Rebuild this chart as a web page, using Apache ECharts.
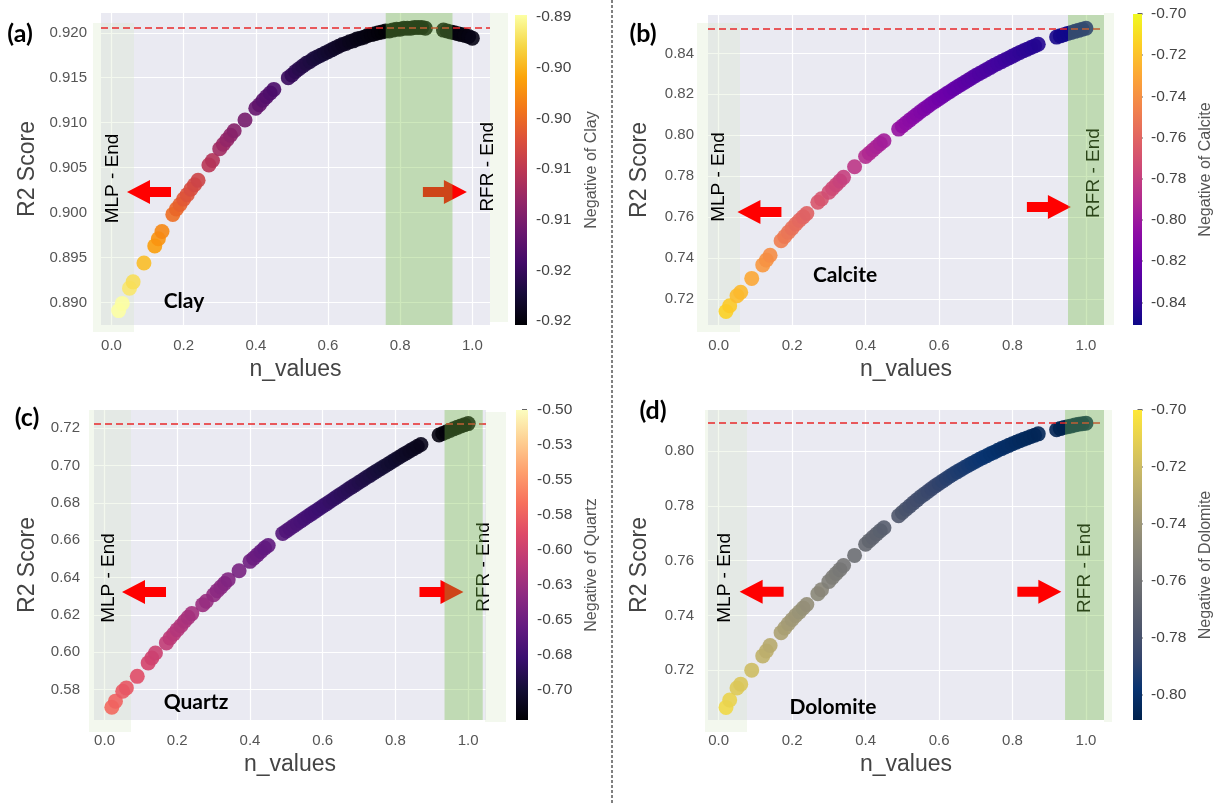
<!DOCTYPE html>
<html><head><meta charset="utf-8">
<script src="https://cdn.jsdelivr.net/npm/echarts@6/dist/echarts.min.js"></script>
<style>html,body{margin:0;padding:0;background:#fff}#chart{width:1215px;height:803px}</style>
</head><body><div id="chart"></div>
<script>
// ---------- data ----------
const nValues = [0.02,0.03,0.05,0.06,0.09,0.12,0.13,0.14,0.17,0.18,0.19,0.20,0.21,0.22,0.23,0.24,0.27,0.28,0.30,0.31,0.32,0.33,0.34,0.37,0.40,0.41,0.42,0.43,0.44,0.45,
0.49,0.50,0.51,0.52,0.53,0.54,0.55,0.56,0.57,0.58,0.59,0.60,0.61,0.62,0.63,0.64,0.65,0.66,0.67,0.68,0.69,0.70,0.71,0.72,0.73,0.74,0.75,0.76,0.77,0.78,0.79,0.80,0.81,0.82,0.83,0.84,0.85,0.86,0.87,
0.92,0.93,0.94,0.95,0.96,0.97,0.98,0.99,1.00];

const r2Clay = [0.8891,0.8899,0.8916,0.8923,0.8944,0.8963,0.8971,0.8979,0.8998,0.9004,0.9009,0.9015,0.9020,0.9026,0.9031,0.9036,0.9053,0.9058,0.9071,0.9076,0.9081,0.9086,0.9091,0.9103,0.9116,0.9120,0.9125,0.9129,0.9133,0.9137,
0.9150,0.9153,0.9157,0.9160,0.9163,0.9166,0.9168,0.9171,0.9173,0.9175,0.9177,0.9179,0.9181,0.9183,0.9185,0.9187,0.9188,0.9190,0.9191,0.9193,0.9194,0.9195,0.9197,0.9198,0.9199,0.9200,0.9201,0.9202,0.9202,0.9203,0.9204,0.9204,0.9205,0.9205,0.9205,0.9206,0.9206,0.9206,0.9205,
0.9203,0.9202,0.9201,0.9200,0.9199,0.9198,0.9197,0.9196,0.9194];

const r2Calcite = [0.7138,0.7166,0.7215,0.7232,0.7300,0.7366,0.7390,0.7413,0.7484,0.7505,0.7526,0.7546,0.7566,0.7584,0.7601,0.7617,0.7672,0.7689,0.7721,0.7740,0.7758,0.7776,0.7794,0.7846,0.7896,0.7912,0.7928,0.7944,0.7959,0.7973,
0.8030,0.8045,0.8060,0.8074,0.8088,0.8102,0.8116,0.8129,0.8142,0.8155,0.8167,0.8179,0.8191,0.8203,0.8214,0.8226,0.8237,0.8248,0.8259,0.8270,0.8281,0.8292,0.8302,0.8312,0.8322,0.8332,0.8342,0.8351,0.8360,0.8369,0.8378,0.8387,0.8396,0.8405,0.8413,0.8421,0.8429,0.8437,0.8445,
0.8480,0.8486,0.8492,0.8498,0.8503,0.8508,0.8513,0.8518,0.8523];

const r2Quartz = [0.5705,0.5738,0.5791,0.5809,0.5871,0.5943,0.5969,0.5996,0.6050,0.6076,0.6098,0.6121,0.6142,0.6166,0.6187,0.6207,0.6255,0.6273,0.6308,0.6330,0.6349,0.6369,0.6389,0.6437,0.6487,0.6504,0.6522,0.6540,0.6558,0.6572,
0.6636,0.6650,0.6663,0.6677,0.6690,0.6703,0.6717,0.6730,0.6743,0.6756,0.6769,0.6782,0.6795,0.6808,0.6821,0.6834,0.6847,0.6860,0.6873,0.6886,0.6898,0.6911,0.6923,0.6936,0.6948,0.6961,0.6973,0.6985,0.6997,0.7009,0.7021,0.7033,0.7045,0.7057,0.7068,0.7080,0.7091,0.7102,0.7113,
0.7164,0.7172,0.7180,0.7189,0.7197,0.7205,0.7212,0.7219,0.7225];

const r2Dolomite = [0.7064,0.7091,0.7135,0.7149,0.7200,0.7252,0.7270,0.7290,0.7337,0.7354,0.7370,0.7385,0.7400,0.7413,0.7427,0.7440,0.7479,0.7494,0.7524,0.7539,0.7553,0.7567,0.7582,0.7619,0.7660,0.7673,0.7685,0.7697,0.7709,0.7720,
0.7764,0.7776,0.7788,0.7799,0.7811,0.7822,0.7833,0.7843,0.7853,0.7863,0.7873,0.7882,0.7891,0.7900,0.7909,0.7917,0.7925,0.7933,0.7941,0.7948,0.7956,0.7963,0.7970,0.7977,0.7983,0.7990,0.7996,0.8003,0.8009,0.8015,0.8021,0.8027,0.8032,0.8038,0.8043,0.8048,0.8053,0.8058,0.8063,
0.8078,0.8082,0.8086,0.8089,0.8092,0.8095,0.8098,0.8100,0.8102];

const minerals = ['Clay','Calcite','Quartz','Dolomite'];

const xTicks = [0, 0.2, 0.4, 0.6, 0.8, 1.0];
const xTickLabels = ['0.0','0.2','0.4','0.6','0.8','1.0'];

const yTicksClay = [0.890,0.895,0.900,0.905,0.910,0.915,0.920];
const yLabelsClay = ['0.890','0.895','0.900','0.905','0.910','0.915','0.920'];
const yTicksCalcite = [0.72,0.74,0.76,0.78,0.80,0.82,0.84];
const yLabelsCalcite = ['0.72','0.74','0.76','0.78','0.80','0.82','0.84'];
const yTicksQuartz = [0.58,0.60,0.62,0.64,0.66,0.68,0.70,0.72];
const yLabelsQuartz = ['0.58','0.60','0.62','0.64','0.66','0.68','0.70','0.72'];
const yTicksDolomite = [0.72,0.74,0.76,0.78,0.80];
const yLabelsDolomite = ['0.72','0.74','0.76','0.78','0.80'];

const cbTicksClay = [-0.920,-0.915,-0.910,-0.905,-0.900,-0.895,-0.890];
const cbLabelsClay = ['-0.92','-0.92','-0.91','-0.91','-0.90','-0.90','-0.89'];
const cbTicksCalcite = [-0.84,-0.82,-0.80,-0.78,-0.76,-0.74,-0.72,-0.70];
const cbLabelsCalcite = ['-0.84','-0.82','-0.80','-0.78','-0.76','-0.74','-0.72','-0.70'];
const cbTicksQuartz = [-0.700,-0.675,-0.650,-0.625,-0.600,-0.575,-0.550,-0.525,-0.500];
const cbLabelsQuartz = ['-0.70','-0.68','-0.65','-0.63','-0.60','-0.58','-0.55','-0.53','-0.50'];
const cbTicksDolomite = [-0.80,-0.78,-0.76,-0.74,-0.72,-0.70];
const cbLabelsDolomite = ['-0.80','-0.78','-0.76','-0.74','-0.72','-0.70'];

const cbRangeClay = [-0.9204, -0.8898];
const cbRangeCalcite = [-0.851, -0.70];
const cbRangeQuartz = [-0.7214, -0.50];
const cbRangeDolomite = [-0.809, -0.70];

// ---------- colormaps ----------
const inferno = ['#000004','#160b39','#420a68','#6a176e','#932667','#bc3754','#dd513a','#f37819','#fca50a','#f6d746','#fcffa4'];
const plasma = ['#0d0887','#41049d','#6a00a8','#8f0da4','#b12a90','#cc4778','#e16462','#f2844b','#fca636','#fcce25','#f0f921'];
const magma = ['#000004','#140e36','#3b0f70','#641a80','#8c2981','#b73779','#de4968','#f7705c','#fe9f6d','#fecf92','#fcfdbf'];
const cividis = ['#00224e','#083370','#35456c','#4f576c','#666970','#7d7c78','#948f78','#aea371','#c8b866','#e5cf52','#fee838'];

function hexToRgb(h){return [parseInt(h.substr(1,2),16),parseInt(h.substr(3,2),16),parseInt(h.substr(5,2),16)];}
function colorAt(cmap,t){
  t=Math.max(0,Math.min(1,t));
  const n=cmap.length-1, f=t*n, i=Math.min(Math.floor(f),n-1), u=f-i;
  const a=hexToRgb(cmap[i]), b=hexToRgb(cmap[i+1]);
  return 'rgb('+a.map((v,k)=>Math.round(v+(b[k]-v)*u)).join(',')+')';
}

// ---------- layout / style ----------
const FONT = 'Liberation Sans';
const arrowLeft = 'path://M0,12 L23,0 L23,7 L44,7 L44,17 L23,17 L23,24 Z';
const arrowRight = 'path://M44,12 L21,0 L21,7 L0,7 L0,17 L21,17 L21,24 Z';

const panels = [
 { ys:r2Clay, cmap:inferno, cb:cbRangeClay, cbT:cbTicksClay, cbL:cbLabelsClay, yT:yTicksClay, yL:yLabelsClay,
   grid:{left:101,top:13,width:389,height:312}, yMin:0.8875, yMax:0.9222,
   cbar:{left:515,top:15,width:12,height:310}, span:[0.76,0.945],
   mlpText:[0.004,0.9038], mlpArrow:[0.104,0.9023], rfrArrow:[0.924,0.9023], rfrText:[1.043,0.9051], nameAt:[0.201,0.8901],
   yNameGap:62, cbNameGap:55, rfrColor:'#ff0000', tag:'(a)', tagPos:[20,34],
   faint:[[93,23,41,309],[490,13,18,309]] },
 { ys:r2Calcite, cmap:plasma, cb:cbRangeCalcite, cbT:cbTicksCalcite, cbL:cbLabelsCalcite, yT:yTicksCalcite, yL:yLabelsCalcite,
   grid:{left:708,top:15,width:396,height:310}, yMin:0.7072, yMax:0.8588,
   cbar:{left:1133,top:14,width:13,height:311}, span:[0.951,1.049],
   mlpText:[0.001,0.7796], mlpArrow:[0.111,0.7625], rfrArrow:[0.899,0.7649], rfrText:[1.022,0.7815], nameAt:[0.344,0.7317],
   yNameGap:57, cbNameGap:54, rfrColor:'#ff0000', tag:'(b)', tagPos:[643,34],
   faint:[[697,23,43,309],[1104,13,10,312]] },
 { ys:r2Quartz, cmap:magma, cb:cbRangeQuartz, cbT:cbTicksQuartz, cbL:cbLabelsQuartz, yT:yTicksQuartz, yL:yLabelsQuartz,
   grid:{left:94,top:410,width:392,height:310}, yMin:0.5637, yMax:0.7298,
   cbar:{left:516,top:410,width:12,height:310}, span:[0.935,1.04],
   mlpText:[0.012,0.6398], mlpArrow:[0.1085,0.6323], rfrArrow:[0.9266,0.6323], rfrText:[1.0435,0.6457], nameAt:[0.2515,0.5733],
   yNameGap:55, cbNameGap:54, rfrColor:'#ff0000', tag:'(c)', tagPos:[27,418],
   faint:[[89,410,42,322],[485,412,21,310]] },
 { ys:r2Dolomite, cmap:cividis, cb:cbRangeDolomite, cbT:cbTicksDolomite, cbL:cbLabelsDolomite, yT:yTicksDolomite, yL:yLabelsDolomite,
   grid:{left:708,top:410,width:396,height:310}, yMin:0.7018, yMax:0.8150,
   cbar:{left:1133,top:410,width:13,height:310}, span:[0.943,1.049],
   mlpText:[0.017,0.7537], mlpArrow:[0.117,0.7486], rfrArrow:[0.873,0.7486], rfrText:[0.997,0.7573], nameAt:[0.311,0.7066],
   yNameGap:57, cbNameGap:54, rfrColor:'#ff0000', tag:'(d)', tagPos:[653,411],
   faint:[[705,410,42,322],[1104,410,8,312]] }
];

const X_MIN = -0.029, X_MAX = 1.049;

function labelFor(ticks, labels){
  return v => { const i = ticks.findIndex(t => Math.abs(t - v) < 1e-9); return i >= 0 ? labels[i] : ''; };
}

const grids = [], xAxes = [], yAxes = [], series = [], graphics = [];

panels.forEach((p, i) => {
  const gMain = grids.length;
  grids.push(Object.assign({show:true, backgroundColor:'#eaeaf2', borderWidth:0, containLabel:false}, p.grid));
  xAxes.push({
    gridIndex:gMain, type:'value', min:X_MIN, max:X_MAX,
    name:'n_values', nameLocation:'middle', nameGap:33,
    nameTextStyle:{fontSize:23, color:'#444', fontFamily:FONT},
    axisLine:{show:false}, axisTick:{show:false, customValues:xTicks},
    axisLabel:{customValues:xTicks, formatter:labelFor(xTicks, xTickLabels), fontSize:15, color:'#555', margin:13, fontFamily:FONT},
    splitLine:{show:true, lineStyle:{color:'#ffffff', width:1.2}}
  });
  yAxes.push({
    gridIndex:gMain, type:'value', min:p.yMin, max:p.yMax,
    name:'R2 Score', nameLocation:'middle', nameGap:p.yNameGap,
    nameTextStyle:{fontSize:23, color:'#444', fontFamily:FONT},
    axisLine:{show:false}, axisTick:{show:false, customValues:p.yT},
    axisLabel:{customValues:p.yT, formatter:labelFor(p.yT, p.yL), fontSize:15, color:'#555', margin:14, fontFamily:FONT},
    splitLine:{show:true, lineStyle:{color:'#ffffff', width:1.2}}
  });
  const cmin = p.cb[0], cmax = p.cb[1], cmap = p.cmap;
  series.push({
    type:'scatter', xAxisIndex:gMain, yAxisIndex:gMain, z:2,
    symbolSize:15,
    data: nValues.map((x, k) => [x, p.ys[k]]),
    itemStyle:{ opacity:0.9, color: prm => colorAt(cmap, (-prm.value[1] - cmin) / (cmax - cmin)) },
    markLine:{ silent:true, symbol:'none', z:4, animation:false, precision:5,
      lineStyle:{color:'#e8282a', type:[7,4], width:1.6}, label:{show:false},
      data:[{yAxis: Math.max.apply(null, p.ys)}] },
    markArea:{ silent:true, z:6, animation:false,
      itemStyle:{color:'rgba(120,190,70,0.36)'},
      data:[[{xAxis:p.span[0]}, {xAxis:p.span[1]}]] },
    markPoint:{ silent:true, z:3, animation:false,
      data:[
        { coord:p.mlpArrow, symbol:arrowLeft, symbolSize:[44,24], itemStyle:{color:'#ff0000', opacity:1}, label:{show:false} },
        { coord:p.rfrArrow, symbol:arrowRight, symbolSize:[44,24], itemStyle:{color:p.rfrColor, opacity:1}, label:{show:false} },
        { coord:p.mlpText, symbol:'circle', symbolSize:0, itemStyle:{color:'transparent'},
          label:{show:true, position:'inside', formatter:'MLP - End', rotate:90, color:'#000', fontSize:19, fontFamily:FONT} },
        { coord:p.rfrText, symbol:'circle', symbolSize:0, itemStyle:{color:'transparent'},
          label:{show:true, position:'inside', formatter:'RFR - End', rotate:90, color:'#000', fontSize:19, fontFamily:FONT} },
        { coord:p.nameAt, symbol:'circle', symbolSize:0, itemStyle:{color:'transparent'},
          label:{show:true, position:'inside', formatter:minerals[i], color:'#000', fontSize:21, fontWeight:'bold', fontFamily:'Lato'} }
      ] }
  });
  // colorbar
  const gBar = grids.length;
  grids.push(Object.assign({show:false}, p.cbar));
  xAxes.push({ gridIndex:gBar, type:'value', min:-1, max:1, show:false });
  yAxes.push({
    gridIndex:gBar, type:'value', position:'right', min:cmin, max:cmax, offset:2,
    name:'Negative of ' + minerals[i], nameLocation:'middle', nameRotate:90, nameGap:p.cbNameGap,
    nameTextStyle:{fontSize:16, color:'#555', fontFamily:FONT},
    axisLine:{show:false},
    axisTick:{show:true, inside:false, length:5, customValues:p.cbT, lineStyle:{color:'#333', width:1.5}},
    axisLabel:{customValues:p.cbT, formatter:labelFor(p.cbT, p.cbL), fontSize:15.5, color:'#444', margin:7, fontFamily:FONT},
    splitLine:{show:false}
  });
  const stops = cmap.map((c, k) => ({offset:k/(cmap.length-1), color:c}));
  series.push({
    type:'custom', xAxisIndex:gBar, yAxisIndex:gBar, silent:true,
    data:[[0, cmin, cmax]], encode:{x:0, y:[1,2]},
    renderItem:(params, api) => {
      const cs = params.coordSys;
      const top = api.coord([0, api.value(2)]);
      const bot = api.coord([0, api.value(1)]);
      return { type:'rect', shape:{x:cs.x, y:top[1], width:cs.width, height:bot[1]-top[1]},
               style:{fill:new echarts.graphic.LinearGradient(0,1,0,0, stops)} };
    }
  });
  // panel tag
  graphics.push({ type:'text', x:p.tagPos[0], y:p.tagPos[1], z:100,
    style:{text:p.tag, font:'bold 25px Lato', fill:'#000', align:'center', verticalAlign:'middle'} });
  p.faint.forEach(r => graphics.push({ type:'rect', z:2, z2:50, silent:true,
    shape:{x:r[0], y:r[1], width:r[2], height:r[3]}, style:{fill:'rgba(215,232,198,0.3)'} }));
});

graphics.push({ type:'line', z:100, shape:{x1:612, y1:0, x2:612, y2:803},
  style:{stroke:'#000', lineWidth:1, lineDash:[3,2]} });

const chart = echarts.init(document.getElementById('chart'), null, {renderer:'canvas'});
chart.setOption({
  animation:false,
  backgroundColor:'#ffffff',
  grid:grids, xAxis:xAxes, yAxis:yAxes, series:series, graphic:graphics
});
</script>
</body></html>
